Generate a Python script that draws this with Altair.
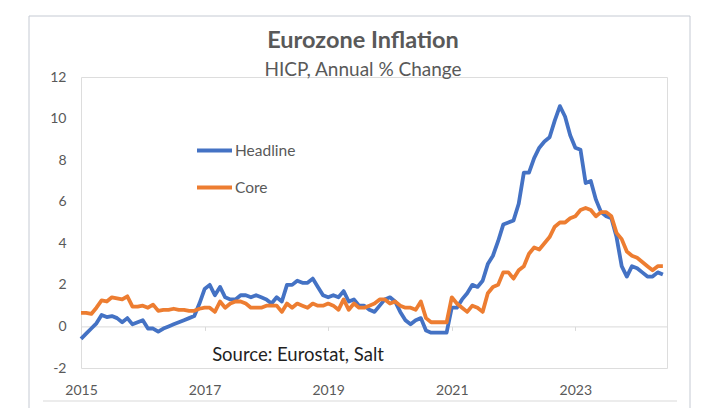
import altair as alt
import pandas as pd

# ---- data (monthly, Jan 2015 - Jun 2024) ----
headline = [
    -0.6, -0.35, -0.1, 0.15, 0.55, 0.45, 0.5, 0.4, 0.2, 0.4, 0.1, 0.2,      # 2015
    0.3, -0.1, -0.1, -0.25, -0.1, 0.0, 0.1, 0.2, 0.3, 0.4, 0.5, 1.1,        # 2016
    1.8, 2.0, 1.5, 1.9, 1.4, 1.3, 1.3, 1.5, 1.5, 1.4, 1.5, 1.4,             # 2017
    1.3, 1.1, 1.4, 1.2, 2.0, 2.0, 2.2, 2.1, 2.1, 2.3, 1.9, 1.5,             # 2018
    1.4, 1.5, 1.4, 1.7, 1.2, 1.3, 1.0, 1.0, 0.8, 0.7, 1.0, 1.3,             # 2019
    1.4, 1.2, 0.7, 0.3, 0.1, 0.3, 0.4, -0.2, -0.3, -0.3, -0.3, -0.3,        # 2020
    0.9, 0.9, 1.3, 1.6, 2.0, 1.9, 2.2, 3.0, 3.4, 4.1, 4.9, 5.0,             # 2021
    5.1, 5.9, 7.4, 7.4, 8.1, 8.6, 8.9, 9.1, 9.9, 10.6, 10.1, 9.2,           # 2022
    8.6, 8.5, 6.9, 7.0, 6.1, 5.5, 5.3, 5.2, 4.3, 2.9, 2.4, 2.9,             # 2023
    2.8, 2.6, 2.4, 2.4, 2.6, 2.5,                                           # 2024
]
core = [
    0.65, 0.65, 0.6, 0.9, 1.25, 1.2, 1.4, 1.35, 1.3, 1.45, 0.95, 0.95,      # 2015
    1.0, 0.9, 1.05, 0.75, 0.8, 0.8, 0.85, 0.8, 0.8, 0.75, 0.75, 0.85,       # 2016
    0.9, 0.9, 0.7, 1.2, 0.9, 1.1, 1.2, 1.2, 1.1, 0.9, 0.9, 0.9,             # 2017
    1.0, 1.0, 1.0, 0.7, 1.1, 0.9, 1.1, 1.0, 0.9, 1.1, 1.0, 1.0,             # 2018
    1.1, 1.0, 0.8, 1.3, 0.8, 1.1, 0.9, 0.9, 1.0, 1.1, 1.3, 1.3,             # 2019
    1.1, 1.2, 1.0, 0.9, 0.9, 0.8, 1.2, 0.4, 0.2, 0.2, 0.2, 0.2,             # 2020
    1.4, 1.1, 0.9, 0.7, 1.0, 0.9, 0.7, 1.6, 1.9, 2.0, 2.6, 2.6,             # 2021
    2.3, 2.7, 2.9, 3.5, 3.8, 3.7, 4.0, 4.3, 4.8, 5.0, 5.0, 5.2,             # 2022
    5.3, 5.6, 5.7, 5.6, 5.3, 5.5, 5.5, 5.3, 4.5, 4.2, 3.6, 3.4,             # 2023
    3.3, 3.1, 2.9, 2.7, 2.9, 2.9,                                           # 2024
]
series_names = ["Headline", "Core"]
series_colors = ["#4472C4", "#ED7D31"]
x_tick_years = [2015, 2017, 2019, 2021, 2023]
y_ticks = [-2, 0, 2, 4, 6, 8, 10, 12]
title_text = "Eurozone Inflation"
subtitle_text = "HICP, Annual % Change"
source_text = "Source: Eurostat, Salt"

FONT = "Lato"
GREY = "#595959"

months = [2015 + i / 12 for i in range(len(headline))]
df = pd.concat([
    pd.DataFrame({"t": months, "value": headline, "series": "Headline", "ord": 0}),
    pd.DataFrame({"t": months, "value": core, "series": "Core", "ord": 1}),
])

W, H = 586, 291

x_scale = alt.Scale(domain=[2015, 2015 + 113.8 / 12], nice=False, zero=False)
y_scale = alt.Scale(domain=[-2, 12], nice=False)
color_scale = alt.Scale(domain=series_names, range=series_colors)

base = alt.Chart(df)

lines = base.mark_line(strokeWidth=3.8, strokeJoin="round").encode(
    x=alt.X("t:Q", scale=x_scale,
            axis=alt.Axis(values=x_tick_years, format="d", title=None, grid=False,
                          offset=-41.6, domainColor="#d9d9d9", tickColor="#d9d9d9",
                          tickSize=4, labelPadding=53, labelFontSize=14,
                          labelColor=GREY, labelFont=FONT, labelFlush=False)),
    y=alt.Y("value:Q", scale=y_scale,
            axis=alt.Axis(values=y_ticks, title=None, grid=False, domain=False,
                          ticks=False, labelPadding=15, labelFontSize=14,
                          labelColor=GREY, labelFont=FONT,
                          labelExpr="'' + datum.value")),
    color=alt.Color("series:N", scale=color_scale,
                    legend=alt.Legend(title=None, orient="none", legendX=114, legendY=54,
                                      symbolType="stroke", symbolSize=1225,
                                      symbolStrokeWidth=4, labelFontSize=15.5,
                                      labelColor=GREY, labelFont=FONT, labelOffset=1,
                                      rowPadding=9, padding=0)),
    detail="series:N",
    order="ord:Q",
)

texts = pd.DataFrame({
    "txt": [title_text, subtitle_text, source_text],
    "kind": ["title", "subtitle", "source"],
})

title_mark = alt.Chart(texts).transform_filter(alt.datum.kind == "title").mark_text(
    font=FONT, fontSize=23.5, fontWeight="bold", color=GREY, align="center", baseline="middle"
).encode(text="txt:N", x=alt.value(282), y=alt.value(-36))

subtitle_mark = alt.Chart(texts).transform_filter(alt.datum.kind == "subtitle").mark_text(
    font=FONT, fontSize=19, color=GREY, align="center", baseline="middle"
).encode(text="txt:N", x=alt.value(282), y=alt.value(-7))

source = alt.Chart(texts).transform_filter(alt.datum.kind == "source").mark_text(
    font=FONT, fontSize=18.5, color="#1f1f1f", align="center", baseline="middle"
).encode(text="txt:N", x=alt.value(217), y=alt.value(278))

# chart frame
frame = alt.Chart(pd.DataFrame({"a": [0]})).mark_rect(
    fill=None, stroke="#c5cad3", strokeWidth=1, clip=False
).encode(x=alt.value(-52), x2=alt.value(609), y=alt.value(-61), y2=alt.value(345))

bottom_rule = alt.Chart(pd.DataFrame({"a": [0]})).mark_rule(
    color="#d9d9d9", strokeWidth=1
).encode(x=alt.value(-38), x2=alt.value(596), y=alt.value(324))

chart = alt.layer(frame, bottom_rule, lines, title_mark, subtitle_mark, source).properties(
    width=W, height=H,
    autosize=alt.AutoSizeParams(type="none"),
    padding={"left": 73, "top": 69, "right": 52, "bottom": 40},
).configure_view(stroke=None).configure(background="white")

chart.save("out.html", embed_options={"renderer": "svg", "actions": False})
